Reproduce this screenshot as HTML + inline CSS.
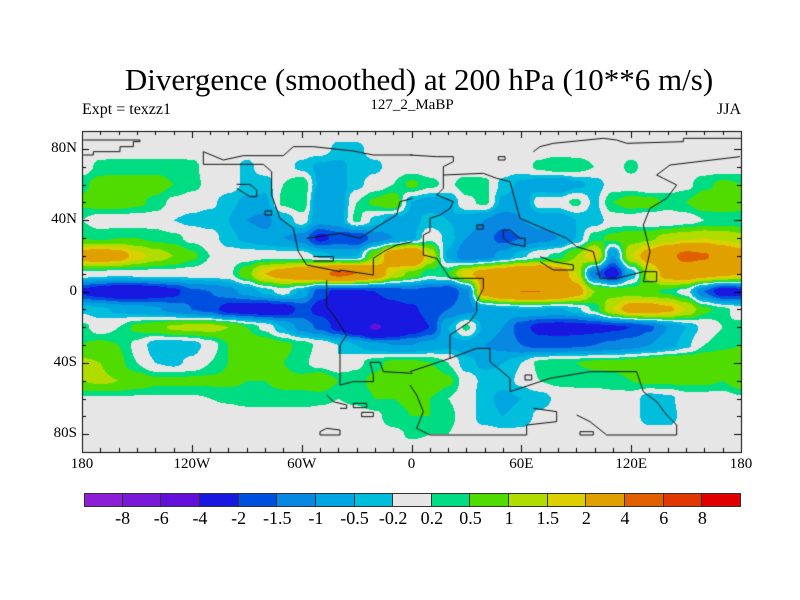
<!DOCTYPE html>
<html><head><meta charset="utf-8">
<style>
html,body{margin:0;padding:0;background:#fff;}
#wrap{position:relative;width:800px;height:600px;overflow:hidden;font-family:"Liberation Serif",serif;color:#000;}
canvas{position:absolute;left:0;top:0;}
.t{position:absolute;white-space:nowrap;}
</style></head>
<body>
<div id="wrap">
<canvas id="cv" width="800" height="600"></canvas>
<div class="t" style="left:0;width:838px;text-align:center;top:62px;font-size:31px;">Divergence (smoothed) at 200 hPa (10**6 m/s)</div>
<div class="t" style="left:82px;top:101px;font-size:16px;">Expt = texzz1</div>
<div class="t" style="left:312px;width:200px;text-align:center;top:97px;font-size:15px;">127_2_MaBP</div>
<div class="t" style="right:59px;top:101px;font-size:16px;">JJA</div>
</div>
<script>
// ---- data ----
const lons = [-180,-170,-160,-150,-140,-130,-120,-110,-100,-90,-80,-70,-60,-50,-40,-30,-20,-10,0,10,20,30,40,50,60,70,80,90,100,110,120,130,140,150,160,170,180];
const lats = [90,80,70,60,50,40,30,20,10,0,-10,-20,-30,-40,-50,-60,-70,-80,-90];
const levels = [-8,-6,-4,-2,-1.5,-1,-0.5,-0.2,0.2,0.5,1,1.5,2,4,6,8];
const levelLabels = ["-8","-6","-4","-2","-1.5","-1","-0.5","-0.2","0.2","0.5","1","1.5","2","4","6","8"];
const colors = ["#8c1ed8","#7a18da","#6410dc","#1818e0","#0050e0","#0888e0","#00a6e0","#00bedc","#e6e6e6","#00dc82","#50dc00","#b0dc00","#dcd000","#e0a000","#e06000","#e03800","#e00000"];
const lonTicks = [-180,-120,-60,0,60,120,180];
const lonTickLabels = ["180","120W","60W","0","60E","120E","180"];
const latTicks = [80,40,0,-40,-80];
const latTickLabels = ["80N","40N","0","40S","80S"];
// grid rows: lat 90..-90, cols lon -180..180
const row90 = new Array(37).fill(0);
const row80 = [0,0,0,0,0,0,0,0,0,0,0,0,0,0,-0.3,-0.3,0,0,0, 0,0,0,0,0,0,0,0,0,0,0,0,0,0,0,0,0,0];
const row70 = [0,0.3,0.35,0.35,0.35,0.35,0.3,0,0,-0.3,0,0,-0.3,-0.6,-0.6,-0.4,-0.3,0,0, 0,0,-0.1,0,0,0,0.3,0.5,0.4,0.2,0,0.3,0,0,0,0,0,0];
const row60 = [0.4,0.7,0.7,0.7,0.7,0.5,0.3,0.1,0,-0.3,-0.4,0.2,0.5,-0.6,-0.7,-0.3,0,0.2,0.6, 0.3,0.1,0.4,0.3,-0.3,-0.6,-0.8,-1.0,-0.6,-0.4,0,0,-0.2,0,0.1,0.4,0.6,0.5];
const row50 = [0.6,0.7,0.7,0.6,0.4,0.1,0,-0.1,-0.4,-0.6,-0.6,0.3,0.5,-1.0,-0.8,0.2,0.6,0.9,-0.5, -0.7,-0.6,0.1,0.3,-0.6,-0.9,0,0,0.3,-0.3,0.5,0.7,0.7,0.4,0.5,0.8,0.9,0.8];
const row40 = [0.2,0,0,0,0,-0.2,-0.3,-0.4,-0.5,-1.0,-1.2,-0.5,0,-0.8,-0.7,0.3,-0.3,-0.7,-0.6, -0.4,-0.5,-0.7,-1.0,-1.3,-1.0,-0.8,-0.8,-0.5,-0.4,0,0,-0.2,-0.1,0,0.2,0.2,0.2];
const row30 = [0.5,0.4,0.5,0.5,0.4,0.3,0.1,0,-0.4,-0.6,-0.8,-1.0,-1.2,-2.2,-1.8,-2.0,-1.3,-1.0,-0.6, 0.1,-0.3,-1.0,-1.3,-1.7,-1.5,-1.2,-1.0,-0.5,0.4,0.6,0.8,0.9,1.2,1.4,1.5,1.4,1.2];
const row20 = [2.5,2.8,2.5,1.7,1.3,1.0,0.6,0.2,0,0,0,0,0,-0.3,-0.6,-0.5,1.0,3,4, 1.5,-0.6,-1.5,-1.3,-0.8,-0.3,0.1,0.3,1,2,-1,1.5,2.5,3.5,4.5,4.2,3.0,2.5];
const row10 = [0.1,0,-0.1,0,0,0,0,0,0.1,0.8,2.0,2.5,3,3.5,4.5,4,3,1.5,0.8, 0.3,0.5,1.8,2.5,3,3.5,3.5,2.8,1.5,-1.5,-2.5,-0.5,1.2,2.5,2.8,2.5,2.2,2.0];
const row0 = [-2.2,-2.5,-2.8,-2.8,-2.5,-2.2,-1.6,-1.5,-1.2,-0.8,-0.4,0,-0.6,-1.8,-2.2,-2.1,-2.0,-1.8,-1.6, -1.8,-2.0,-1.2,2.5,3.5,4,4,3.5,2.5,1.0,0.8,0.7,0.6,0.4,0,-1.5,-2.5,-2.3];
const rowS10 = [-0.3,-0.4,-0.6,-0.7,-0.9,-1.2,-1.5,-1.7,-2.3,-2.5,-2.6,-2.5,-1.8,-2.2,-2.6,-2.6,-2.4,-2.2,-2.1, -1.8,-1.5,-1.2,-0.8,-0.6,-0.5,-0.5,-0.6,-0.3,0.3,1.5,2.5,2.5,2.2,1.5,0.6,0.3,0];
const rowS20 = [0.3,0,0.2,0.6,0.8,1.1,1.2,1.2,1.0,0.5,0.1,-0.5,-1.2,-1.6,-2.2,-3,-4.2,-3.5,-2.5, -2.0,-0.5,0.3,-0.6,-1.0,-1.8,-2.2,-2.3,-2.3,-2.2,-2.1,-2.0,-1.6,-1.0,-0.5,-0.1,0.2,0.3];
const rowS30 = [0.5,0.6,0.5,0.1,-0.4,-0.5,-0.4,0,0.5,0.8,0.8,0.6,0.4,0.1,-0.2,-0.5,-0.8,-1.0,-1.0, -0.8,-0.6,-0.7,-1.0,-1.2,-1.5,-1.7,-1.7,-1.6,-1.5,-1.4,-1.2,-1.0,-0.7,-0.3,0.2,0.4,0.5];
const rowS40 = [1.1,1.0,0.6,0.2,-0.2,-0.3,-0.1,0.2,0.5,0.6,0.6,0.5,0.3,0,-0.2,0.1,0.4,0.6,0.6, 0.5,0.2,-0.4,-0.6,-0.5,-0.2,0.3,0.5,0.5,0.6,0.6,0.7,0.9,1.0,1.0,1.0,1.0,1.0];
const rowS50 = [1.0,1.1,1.0,0.8,0.6,0.6,0.6,0.6,0.6,0.5,0.5,0.6,0.6,0.9,0.5,0.4,0.6,0.7,0.7, 1.0,0.6,0,-0.3,-0.4,-0.1,0.2,0.3,0.3,0.3,0.4,0.5,0.6,0.6,0.6,0.6,0.5,0.8];
const rowS60 = [0.15,0.15,0.15,0.15,0.15,0.15,0.15,0.2,0.25,0.35,0.4,0.4,0.4,0.3,0.2,0.3,0.5,0.5,0.55, 0.5,0.2,0,-0.4,-0.6,-0.5,-0.4,-0.1,0,0,0,0,-0.4,-0.3,0,0,0,0.15];
const rowS70 = [0,0,0,0,0,0,0,0,0,0,0,0,0,0,0,0,0.1,0.4,0.5, 0.5,0.3,0,-0.4,-0.5,-0.4,-0.1,0,0,0,0,0,-0.4,-0.4,0,0,0,0];
const rowS80 = [0,0,0,0,0,0,0,0,0,0,0,0,0,0,0,0,0,0.1,0.25, 0.2,0.2,0,0,-0.1,-0.1,0,0,0,0,0,0,0,0,0,0,0,0];
const grid = [row90,row80,row70,row60,row50,row40,row30,row20,row10,row0,rowS10,rowS20,rowS30,rowS40,rowS50,rowS60,rowS70,rowS80,row90];

// ---- layout ----
const X0=82, X1=741, Y0=131, Y1=452;
const xS = lon => X0 + (lon+180)/360*(X1-X0);
const yS = lat => Y0 + (90-lat)/180*(Y1-Y0);
const cv=document.getElementById('cv'), ctx=cv.getContext('2d');
ctx.fillStyle='#fff';ctx.fillRect(0,0,800,600);

function hex(c){return [parseInt(c.substr(1,2),16),parseInt(c.substr(3,2),16),parseInt(c.substr(5,2),16)];}
const rgb = colors.map(hex);
function cls(v){let i=0;while(i<levels.length&&v>=levels[i])i++;return i;}
function val(lon,lat){
  const fx=(lon-lons[0])/(lons[1]-lons[0]), fy=(lats[0]-lat)/(lats[0]-lats[1]);
  let i=Math.min(Math.floor(fx),lons.length-2), j=Math.min(Math.floor(fy),lats.length-2);
  const tx=fx-i, ty=fy-j;
  const sx=tx*tx*(3-2*tx), sy=ty*ty*(3-2*ty);
  const a=grid[j][i],b=grid[j][i+1],c=grid[j+1][i],d=grid[j+1][i+1];
  return (a*(1-sx)+b*sx)*(1-sy)+(c*(1-sx)+d*sx)*sy;
}
const W=X1-X0, H=Y1-Y0;
const img=ctx.createImageData(W,H);
for(let py=0;py<H;py++){const lat=90-(py+0.5)/H*180;
  for(let px=0;px<W;px++){const lon=-180+(px+0.5)/W*360;
    const c=rgb[cls(val(lon,lat))];const k=(py*W+px)*4;
    img.data[k]=c[0];img.data[k+1]=c[1];img.data[k+2]=c[2];img.data[k+3]=255;}}
ctx.putImageData(img,X0,Y0);

// coastlines (rough outlines, zoom coords of reference)
const coastA=[[10,45,180,45,180,50,160,50,160,65,120,65,120,80,40,80,40,90,10,90]];
const coastB=[[370,80,370,118,550,118,575,140,575,210,600,280,640,310,655,380,680,420,780,440,780,435,880,450,880,400,910,380,950,360,998,350],
 [370,80,430,105,490,92,610,92,640,65,700,65,820,78,880,90,998,90],
 [680,340,780,325,840,340,900,300,950,270,960,230,998,220],
 [740,465,740,545,760,570,780,600,800,630,780,660,780,780,820,770,880,770,880,750,870,712,900,712,910,740,998,745],
 [740,810,760,830,800,840,800,850,780,850],[720,930,780,930,780,915,740,910,720,920,720,930],
 [820,835,860,835,860,848,820,848,820,835],[845,862,880,862,880,875,845,875,845,862],[470,178,510,178,530,195,530,215,510,215,470,190],[555,258,575,258,575,270,555,270,555,258],[700,395,760,395,760,408,700,408]];
const coastC=[[0,90,80,95,130,95,130,110,100,125,100,190,80,210,130,230,120,250,90,270,60,280,60,320,40,330,40,390,80,400,120,460,220,460,220,490,200,530,200,560,180,590,120,630,120,700,60,720,0,740],
 [100,150,220,145,260,160,300,170,330,280,400,310,470,340,500,365,550,380,570,460,620,460,700,440,740,440,740,470,700,470,720,380,700,300,720,250,770,220,800,180,760,160,740,150,780,120,990,95],
 [370,80,390,65,430,55,580,40,620,45,650,55,820,50,820,40,998,40],
 [0,780,20,810,40,860,20,910,60,930,350,930,350,900,440,890,440,860,370,850],
 [500,870,540,890,590,930,800,930,800,900,770,870,740,830,700,800,680,740,540,740,420,760,300,800,300,760,240,710,240,670,200,670,120,700],
 [280,315,300,315,330,340,345,340,345,365,300,355,280,340,280,315],[200,300,220,300,220,312,200,312,200,300],[265,95,285,95,285,105,265,105,265,95],[345,750,365,750,365,765,345,765,345,750],[510,920,550,920,550,930,510,930,510,920],[390,395,430,410,490,420,490,435,430,435,390,410]];
ctx.save();ctx.beginPath();ctx.rect(X0,Y0,W,H);ctx.clip();
ctx.strokeStyle='#111';ctx.lineWidth=1;
function drawSet(set,ox){for(const p of set){ctx.beginPath();for(let k=0;k<p.length;k+=2){const x=ox+p[k]/3,y=125+p[k+1]/3;k?ctx.lineTo(x,y):ctx.moveTo(x,y);}ctx.stroke();}}
drawSet(coastA,80);drawSet(coastB,80);drawSet(coastC,410);
ctx.restore();

// frame & ticks
ctx.strokeStyle='#000';ctx.lineWidth=1;
ctx.strokeRect(X0+0.5,Y0+0.5,W,H);
ctx.beginPath();
for(let lon=-180;lon<=180;lon+=10){const x=Math.round(xS(lon))+0.5;const L=(lon%60===0)?7:4;
  ctx.moveTo(x,Y1);ctx.lineTo(x,Y1-L);ctx.moveTo(x,Y0);ctx.lineTo(x,Y0+L);}
for(let lat=-90;lat<=90;lat+=10){const y=Math.round(yS(lat))+0.5;const L=(lat%40===0)?7:4;
  ctx.moveTo(X0,y);ctx.lineTo(X0+L,y);ctx.moveTo(X1,y);ctx.lineTo(X1-L,y);}
ctx.stroke();

// colorbar
const CB0=84, CB1=741, CBY=493, CBH=14, bw=(CB1-CB0)/colors.length;
const wrap=document.getElementById('wrap');
colors.forEach((c,i)=>{
  const d=document.createElement('div');
  
  
  d.style.cssText=`position:absolute;left:${CB0+i*bw}px;top:${CBY}px;width:${bw}px;height:${CBH}px;background:${c};box-sizing:border-box;border:1px solid #333;`+(i?'border-left:none;':'');
  wrap.appendChild(d);
});
levelLabels.forEach((t,i)=>{
  const d=document.createElement('div');
  
  
  d.className='t';d.textContent=t;
  d.style.cssText+=`left:${CB0+(i+1)*bw-30}px;width:60px;text-align:center;top:508px;font-size:18px;`;
  wrap.appendChild(d);
});
lonTicks.forEach((l,i)=>{
  const d=document.createElement('div');
  
  
  d.className='t';d.textContent=lonTickLabels[i];
  d.style.cssText+=`left:${xS(l)-30}px;width:60px;text-align:center;top:456px;font-size:15px;`;
  wrap.appendChild(d);
});
latTicks.forEach((l,i)=>{
  const d=document.createElement('div');
  
  
  d.className='t';d.textContent=latTickLabels[i];
  d.style.cssText+=`right:${800-X0+5}px;top:${yS(l)-9}px;font-size:15px;text-align:right;`;
  wrap.appendChild(d);
});
</script>
</body></html>
